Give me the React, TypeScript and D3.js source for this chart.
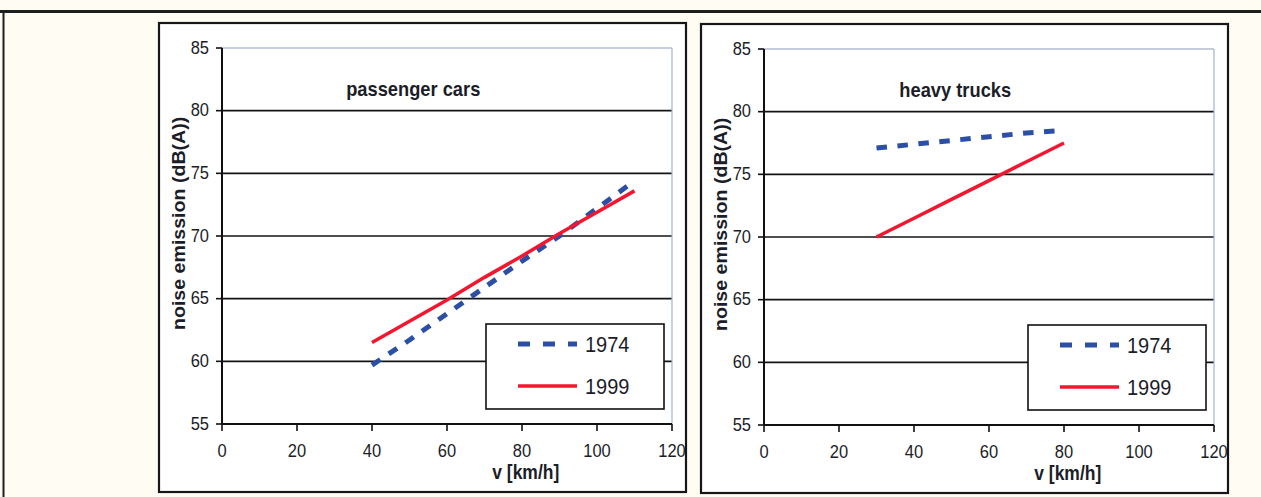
import React from 'react';
import * as d3 from 'd3';

// Axis ticks shared by both panels
const speedTicks = [0, 20, 40, 60, 80, 100, 120];
const levelTicks = [55, 60, 65, 70, 75, 80, 85];

// Passenger cars, noise emission vs speed
const carSpeeds1974 = [40, 50, 60, 70, 80, 90, 100, 110];
const carLevels1974 = [59.7, 61.7, 63.8, 65.9, 68.0, 70.0, 72.2, 74.4];
const carSpeeds1999 = [40, 50, 60, 70, 80, 90, 100, 110];
const carLevels1999 = [61.5, 63.2, 64.9, 66.7, 68.4, 70.2, 71.9, 73.6];

// Heavy trucks, noise emission vs speed
const truckSpeeds1974 = [30, 40, 50, 60, 70, 80];
const truckLevels1974 = [77.1, 77.4, 77.7, 78.0, 78.3, 78.5];
const truckSpeeds1999 = [30, 40, 50, 60, 70, 80];
const truckLevels1999 = [70.0, 71.5, 73.0, 74.5, 76.0, 77.5];

const seriesNames = ['1974', '1999'];
const panelTitles = ['passenger cars', 'heavy trucks'];
const xAxisTitle = 'v [km/h]';
const yAxisTitle = 'noise emission (dB(A))';

const FONT = "'Liberation Sans', Arial, Helvetica, sans-serif";
const STRETCH = 1.12;
const INK = '#1b1d28';
const BLUE = '#2c4fa6';
const RED = '#f3162f';

const PANEL_W = 527;
const PANEL_H = 469;
const PLOT = { left: 63, right: 513, top: 25, bottom: 401 };

type Series = {
  name: string;
  speeds: number[];
  levels: number[];
  color: string;
  width: number;
  dashed?: boolean;
};

function Label(props: {
  x: number;
  y: number;
  size: number;
  weight?: string;
  anchor?: string;
  vertical?: boolean;
  children: React.ReactNode;
}) {
  const { x, y, size, weight = 'normal', anchor = 'middle', vertical = false, children } = props;
  const t = vertical
    ? `translate(${x},${y}) rotate(-90) scale(${STRETCH},1)`
    : `translate(${x},${y}) scale(1,${STRETCH})`;
  return (
    <text
      transform={t}
      fontFamily={FONT}
      fontSize={size}
      fontWeight={weight}
      textAnchor={anchor}
      fill={INK}
    >
      {children}
    </text>
  );
}

// Dash pattern fitted to the polyline so it starts on a dash and ends in a gap
function fittedDash(points: [number, number][], period = 20): string {
  let len = 0;
  for (let i = 1; i < points.length; i++) {
    len += Math.hypot(points[i][0] - points[i - 1][0], points[i][1] - points[i - 1][1]);
  }
  const n = Math.max(1, Math.round(len / period - 0.95));
  const p = len / (n + 0.95);
  return `${(p * 0.5).toFixed(2)} ${(p * 0.5).toFixed(2)}`;
}

function Panel(props: { id: string; left: number; top: number; title: string; series: Series[] }) {
  const { id, left, top, title, series } = props;
  const x = d3
    .scaleLinear()
    .domain([speedTicks[0], speedTicks[speedTicks.length - 1]])
    .range([PLOT.left, PLOT.right]);
  const y = d3
    .scaleLinear()
    .domain([levelTicks[0], levelTicks[levelTicks.length - 1]])
    .range([PLOT.bottom, PLOT.top]);
  const line = d3.line<[number, number]>();

  const yMin = levelTicks[0];
  const yMax = levelTicks[levelTicks.length - 1];
  const xMin = speedTicks[0];
  const xMax = speedTicks[speedTicks.length - 1];

  const legend = { x: 327, y: 301, w: 178, h: 85 };
  const rowY = [legend.y + 20, legend.y + 62];

  return (
    <g transform={`translate(${left},${top})`}>
      <defs>
        <clipPath id={id}>
          <rect x={0} y={0} width={PANEL_W} height={PANEL_H} />
        </clipPath>
      </defs>
      <rect x={0} y={0} width={PANEL_W} height={PANEL_H} fill="#ffffff" />
      <g clipPath={`url(#${id})`}>
        {/* gridlines */}
        {levelTicks.map((v) =>
          v === yMin ? null : (
            <line
              key={`g${v}`}
              x1={x(xMin)}
              x2={x(xMax)}
              y1={y(v)}
              y2={y(v)}
              stroke={v === yMax ? '#8c9cbc' : '#141414'}
              strokeWidth={v === yMax ? 1.2 : 1.6}
            />
          )
        )}
        {/* right edge of the plot area */}
        <line x1={x(xMax)} x2={x(xMax)} y1={y(yMax)} y2={y(yMin)} stroke="#9fb2d6" strokeWidth={1.2} />

        {/* axes */}
        <line x1={x(xMin)} x2={x(xMin)} y1={y(yMax)} y2={y(yMin)} stroke="#111" strokeWidth={2} />
        <line x1={x(xMin)} x2={x(xMax)} y1={y(yMin)} y2={y(yMin)} stroke="#111" strokeWidth={2} />
        {levelTicks.map((v) => (
          <g key={`yt${v}`}>
            <line x1={x(xMin) - 6} x2={x(xMin)} y1={y(v)} y2={y(v)} stroke="#111" strokeWidth={1.6} />
            <Label x={x(xMin) - 13} y={y(v) + 5.5} size={16.5} anchor="end">
              {v}
            </Label>
          </g>
        ))}
        {speedTicks.map((v) => (
          <g key={`xt${v}`}>
            <line x1={x(v)} x2={x(v)} y1={y(yMin)} y2={y(yMin) + 7} stroke="#111" strokeWidth={1.6} />
            <Label x={x(v)} y={y(yMin) + 32.5} size={16.5}>
              {v}
            </Label>
          </g>
        ))}

        {/* axis titles */}
        <Label x={x(81)} y={y(yMin) + 54.5} size={17.5} weight="bold">
          {xAxisTitle}
        </Label>
        <Label x={26} y={307} size={17.5} weight="bold" anchor="start" vertical>
          {yAxisTitle}
        </Label>

        {/* panel title */}
        <Label x={x(51)} y={73} size={18.3} weight="bold">
          {title}
        </Label>

        {/* series */}
        {series.map((s) => {
          const pts = s.speeds.map((v, i) => [x(v), y(s.levels[i])] as [number, number]);
          return (
            <path
              key={s.name}
              d={line(pts) || ''}
              fill="none"
              stroke={s.color}
              strokeWidth={s.width}
              strokeDasharray={s.dashed ? fittedDash(pts) : undefined}
              strokeLinejoin="round"
            />
          );
        })}

        {/* legend */}
        <rect
          x={legend.x}
          y={legend.y}
          width={legend.w}
          height={legend.h}
          fill="#ffffff"
          stroke="#111"
          strokeWidth={1.6}
        />
        {series.map((s, i) => (
          <g key={`l${s.name}`}>
            <line
              x1={legend.x + 32}
              x2={legend.x + 91}
              y1={rowY[i]}
              y2={rowY[i]}
              stroke={s.color}
              strokeWidth={s.width}
              strokeDasharray={s.dashed ? '12 13' : undefined}
            />
            <Label x={legend.x + 99} y={rowY[i] + 8} size={20} anchor="start">
              {s.name}
            </Label>
          </g>
        ))}
      </g>
      <rect
        x={0}
        y={0}
        width={PANEL_W}
        height={PANEL_H}
        fill="none"
        stroke="#161616"
        strokeWidth={2.2}
      />
    </g>
  );
}

export default function App() {
  const carSeries: Series[] = [
    { name: seriesNames[0], speeds: carSpeeds1974, levels: carLevels1974, color: BLUE, width: 5, dashed: true },
    { name: seriesNames[1], speeds: carSpeeds1999, levels: carLevels1999, color: RED, width: 3.5 },
  ];
  const truckSeries: Series[] = [
    { name: seriesNames[0], speeds: truckSpeeds1974, levels: truckLevels1974, color: BLUE, width: 5, dashed: true },
    { name: seriesNames[1], speeds: truckSpeeds1999, levels: truckLevels1999, color: RED, width: 3.5 },
  ];

  return (
    <svg
      width={1261}
      height={497}
      style={{ position: 'absolute', left: 0, top: 0, display: 'block' }}
    >
      <rect x={0} y={0} width={1261} height={497} fill="#fffdf3" />
      <line x1={0} x2={1261} y1={11.5} y2={11.5} stroke="#1e1e1e" strokeWidth={3} />
      <line x1={3.5} x2={3.5} y1={11} y2={497} stroke="#1e1e1e" strokeWidth={2} />
      <Panel id="clip-cars" left={159} top={23} title={panelTitles[0]} series={carSeries} />
      <Panel id="clip-trucks" left={701} top={24} title={panelTitles[1]} series={truckSeries} />
    </svg>
  );
}
